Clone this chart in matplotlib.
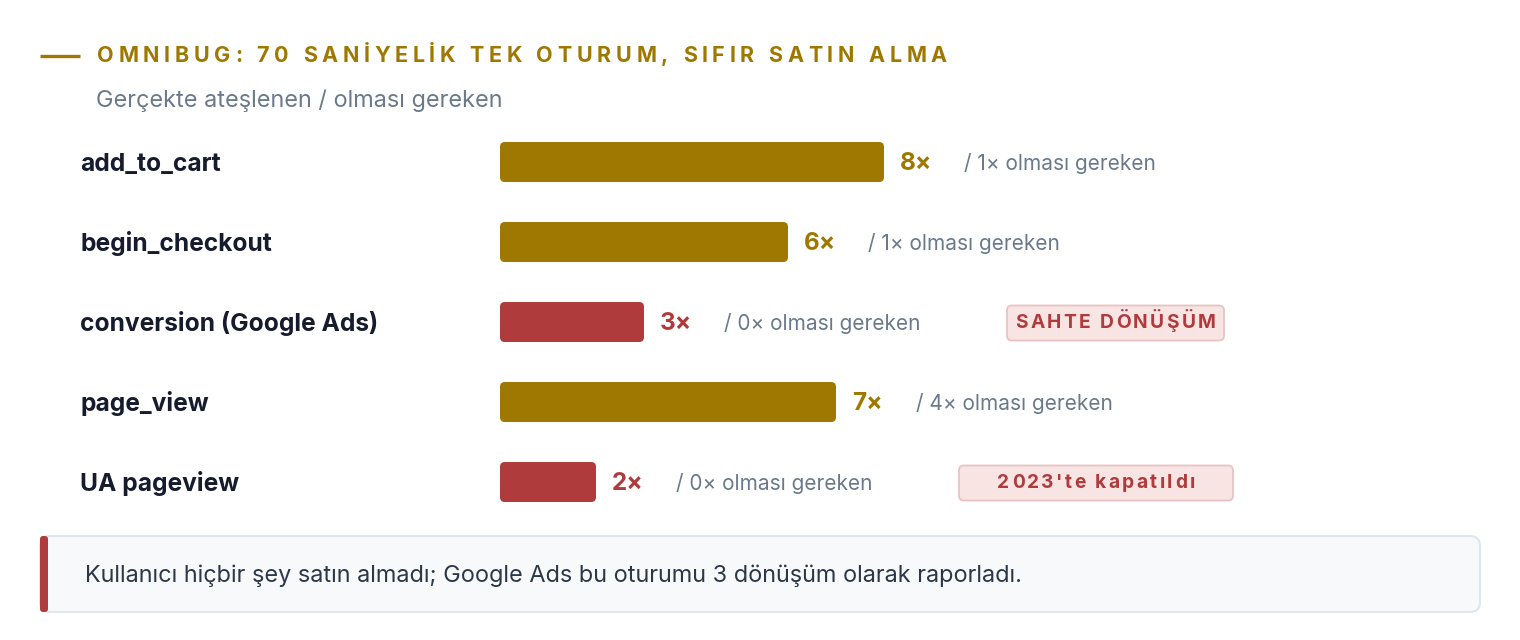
import matplotlib
matplotlib.use("Agg")
import matplotlib.pyplot as plt
from matplotlib.patches import FancyBboxPatch

# ---------------- data ----------------
events = ["add_to_cart", "begin_checkout", "conversion (Google Ads)", "page_view", "UA pageview"]
fired = [8, 6, 3, 7, 2]
expected = [1, 1, 0, 4, 0]
flags = ["", "", "SAHTE DÖNÜŞÜM", "", "2023'te kapatıldı"]

title = "OMNIBUG: 70 SANİYELİK TEK OTURUM, SIFIR SATIN ALMA"
subtitle = "Gerçekte ateşlenen / olması gereken"
footer = "Kullanıcı hiçbir şey satın almadı; Google Ads bu oturumu 3 dönüşüm olarak raporladı."

# ---------------- style ----------------
GOLD = "#9e7800"
RED = "#b03b3d"
NAVY = "#161c2d"
GRAY = "#6a7a8b"
FONT = ["Inter", "DejaVu Sans"]

W, H = 1520, 640
fig = plt.figure(figsize=(W / 100, H / 100), dpi=100)
fig.patch.set_facecolor("white")

ov = fig.add_axes([0, 0, 1, 1], zorder=0)
ov.set_xlim(0, W)
ov.set_ylim(H, 0)
ov.axis("off")

PX_PER_UNIT = 48
X0 = 500
ROW_TOP, ROW_BOT = 122, 522
ax = fig.add_axes([X0 / W, (H - ROW_BOT) / H, (W - X0) / W, (ROW_BOT - ROW_TOP) / H], zorder=1)
ax.set_xlim(0, (W - X0) / PX_PER_UNIT)
ax.set_ylim(len(events) - 0.5, -0.5)
ax.axis("off")
ax.patch.set_alpha(0)

renderer = fig.canvas.get_renderer()


def text_w(s, **kw):
    t = ov.text(0, 0, s, **kw)
    bb = t.get_window_extent(renderer)
    t.remove()
    return bb.width


def tracked(x, y, s, tracking=0.0, target_w=None, ha="left", **kw):
    bar = text_w("|", **kw)
    lefts = [0.0] + [text_w(s[:i] + "|", **kw) - bar for i in range(1, len(s))]
    nat = text_w(s, **kw)
    if target_w is not None:
        tracking = (target_w - nat) / (len(s) - 1)
    total = nat + tracking * (len(s) - 1)
    if ha == "center":
        x = x - total / 2
    for i, ch in enumerate(s):
        if ch.strip():
            ov.text(x + lefts[i] + i * tracking, y, ch, ha="left", va="center", **kw)
    return total


# ---------------- header ----------------
ov.plot([40, 80], [56, 56], color=GOLD, lw=2.4, solid_capstyle="butt")
tracked(97, 56, title, target_w=850, fontsize=15.5, fontweight="bold", color=GOLD, family=FONT)
ov.text(96, 101, subtitle, ha="left", va="center", fontsize=16.9, color=GRAY, family=FONT)

# ---------------- rows ----------------
DY = 2
for i, (name, v, e, flag) in enumerate(zip(events, fired, expected, flags)):
    col = RED if e == 0 else GOLD
    bar = FancyBboxPatch((0, i - 0.25), v, 0.5,
                         boxstyle="round,pad=0,rounding_size=0.1",
                         mutation_aspect=0.6, fc=col, ec="none", zorder=2)
    ax.add_patch(bar)

    xd, yd = ax.transData.transform((v, i))
    bx, by = xd, H - yd

    ov.text(80, by + DY, name, ha="left", va="center", fontsize=17.7, fontweight="bold",
            color=NAVY, family=FONT)
    ov.text(bx + 16, by + DY, f"{v}×", ha="left", va="center", fontsize=17.5, fontweight="bold",
            color=col, family=FONT)
    ov.text(bx + 80, by + DY, f"/ {e}× olması gereken", ha="left", va="center", fontsize=15,
            color=GRAY, family=FONT)

    if flag:
        bw = 217 if i == 2 else 274
        left = bx + 363
        badge = FancyBboxPatch((left, by + 1 - 17.5), bw, 35,
                               boxstyle="round,pad=0,rounding_size=5",
                               fc="#f9e4e4", ec="#e8c3c3", lw=1.3, zorder=2)
        ov.add_patch(badge)
        tracked(left + bw / 2, by + 1, flag, tracking=2.4, ha="center", fontsize=13.8,
                fontweight="bold", color=RED, family=FONT)

# ---------------- footer ----------------
box = FancyBboxPatch((40, 536), 1440, 76, boxstyle="round,pad=0,rounding_size=10",
                     fc="#f7f9fb", ec="#e0e6ee", lw=1.5, zorder=1)
ov.add_patch(box)
accent = FancyBboxPatch((40, 536), 8, 76, boxstyle="round,pad=0,rounding_size=3",
                        fc=RED, ec="none", zorder=2)
ov.add_patch(accent)
ov.text(85, 576, footer, ha="left", va="center", fontsize=16.9, color="#2c3748", family=FONT)

fig.savefig("out.png", dpi=100, facecolor="white")
